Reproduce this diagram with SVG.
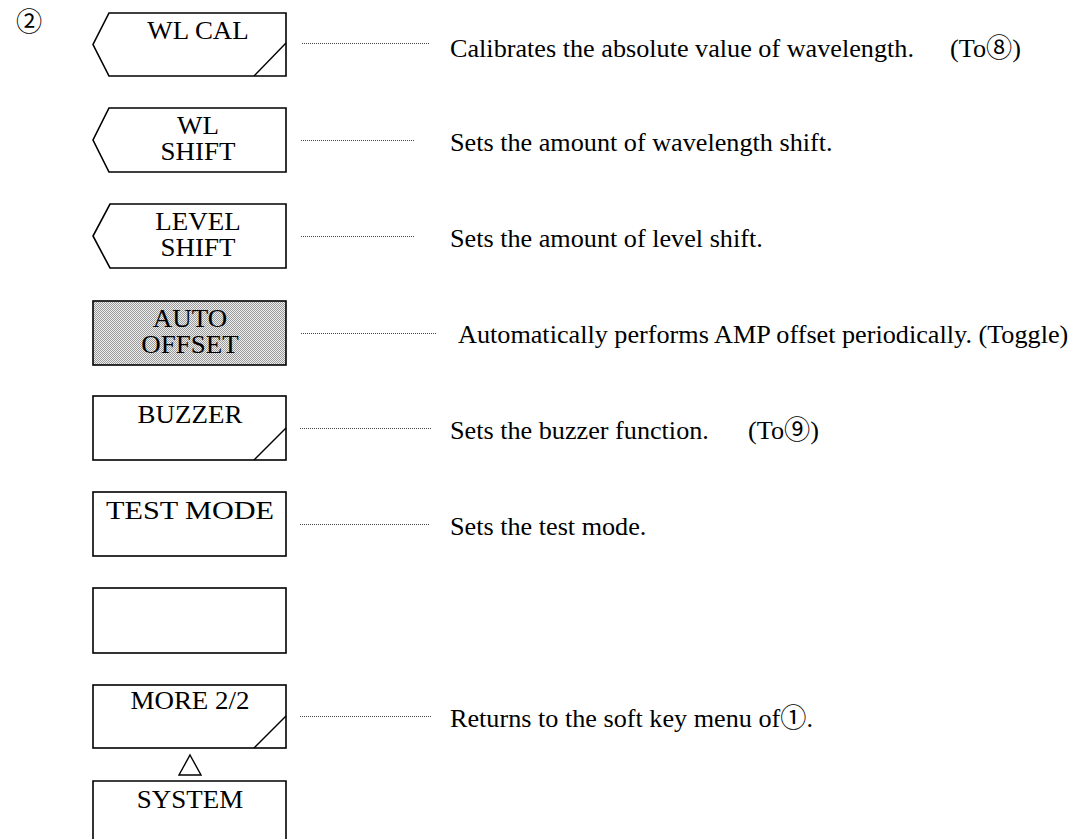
<svg xmlns="http://www.w3.org/2000/svg" width="1080" height="839" viewBox="0 0 1080 839">
  <style>
    .key { fill: #ffffff; stroke: #000000; stroke-width: 1.6; }
    .mark { fill: none; stroke: #000000; stroke-width: 1.4; }
    .lbl { font-family: "Liberation Serif", "Noto Sans CJK JP", serif; font-size: 24.5px; fill: #000000; text-anchor: middle; }
    .desc { font-family: "Liberation Serif", "Noto Sans CJK JP", serif; font-size: 26.2px; fill: #000000; }
    .lead { fill: none; stroke: #444444; stroke-width: 1; stroke-dasharray: 1 1; }
  </style>
  <defs>
    <pattern id="stipple" width="2" height="2" patternUnits="userSpaceOnUse">
      <rect width="2" height="2" fill="#eeeeee"/>
      <rect x="0" y="0" width="1" height="1" fill="#9a9a9a"/>
      <rect x="1" y="1" width="1" height="1" fill="#9a9a9a"/>
    </pattern>
  </defs>
  <rect width="1080" height="839" fill="#ffffff"/>

  <text id="menu-number" class="desc" x="16" y="31" font-size="25">②</text>

  <!-- soft keys -->
  <g id="key-wl-cal">
    <path class="key" d="M109,13 H286 V76 H109 L93,44.5 Z"/>
    <path class="mark" d="M254,76 L286,43"/>
    <text class="lbl" transform="translate(198,39) scale(1.1,1)">WL CAL</text>
  </g>
  <g id="key-wl-shift">
    <path class="key" d="M109,108 H286 V172 H109 L93,140 Z"/>
    <text class="lbl" transform="translate(198,134) scale(1.1,1)">WL</text>
    <text class="lbl" transform="translate(198,160) scale(1.1,1)">SHIFT</text>
  </g>
  <g id="key-level-shift">
    <path class="key" d="M110,204 H286 V268 H110 L93,236 Z"/>
    <text class="lbl" transform="translate(198,230) scale(1.1,1)">LEVEL</text>
    <text class="lbl" transform="translate(198,256) scale(1.1,1)">SHIFT</text>
  </g>
  <g id="key-auto-offset">
    <rect class="key" x="93" y="301" width="193" height="64" style="fill:url(#stipple)"/>
    <text class="lbl" transform="translate(190,327) scale(1.1,1)">AUTO</text>
    <text class="lbl" transform="translate(190,353) scale(1.1,1)">OFFSET</text>
  </g>
  <g id="key-buzzer">
    <rect class="key" x="93" y="396" width="193" height="64"/>
    <path class="mark" d="M254,460 L286,428"/>
    <text class="lbl" transform="translate(190,423) scale(1.1,1)">BUZZER</text>
  </g>
  <g id="key-test-mode">
    <rect class="key" x="93" y="492" width="193" height="64"/>
    <text class="lbl" x="190" y="519" textLength="168" lengthAdjust="spacingAndGlyphs">TEST MODE</text>
  </g>
  <g id="key-blank">
    <rect class="key" x="93" y="588" width="193" height="65"/>
  </g>
  <g id="key-more">
    <rect class="key" x="93" y="685" width="193" height="63"/>
    <path class="mark" d="M254,748 L286,716"/>
    <text class="lbl" transform="translate(190,709) scale(1.1,1)">MORE 2/2</text>
  </g>
  <g id="key-system">
    <path class="key" d="M93,850 V781 H286 V850"/>
    <text class="lbl" transform="translate(190,808) scale(1.1,1)">SYSTEM</text>
  </g>

  <!-- leaders and link marker -->
  <g id="connectors">
    <path class="lead" d="M302,43.5 H430"/>
    <path class="lead" d="M301,140.5 H415"/>
    <path class="lead" d="M301,236.5 H415"/>
    <path class="lead" d="M301,333.5 H437"/>
    <path class="lead" d="M300,428.5 H432"/>
    <path class="lead" d="M300,524.5 H430"/>
    <path class="lead" d="M300,716.5 H432"/>
    <path class="mark" d="M190,755 L201,775 H179 Z"/>
  </g>

  <!-- descriptions -->
  <text id="desc-wl-cal" class="desc" y="57"><tspan x="450">Calibrates the absolute value of wavelength.</tspan><tspan x="950">(To⑧)</tspan></text>
  <text id="desc-wl-shift" class="desc" x="450" y="151">Sets the amount of wavelength shift.</text>
  <text id="desc-level-shift" class="desc" x="450" y="247">Sets the amount of level shift.</text>
  <text id="desc-auto-offset" class="desc" x="458" y="343">Automatically performs AMP offset periodically. (Toggle)</text>
  <text id="desc-buzzer" class="desc" y="439"><tspan x="450">Sets the buzzer function.</tspan><tspan x="748">(To⑨)</tspan></text>
  <text id="desc-test-mode" class="desc" x="450" y="535">Sets the test mode.</text>
  <text id="desc-more" class="desc" x="450" y="727">Returns to the soft key menu of①.</text>
</svg>
